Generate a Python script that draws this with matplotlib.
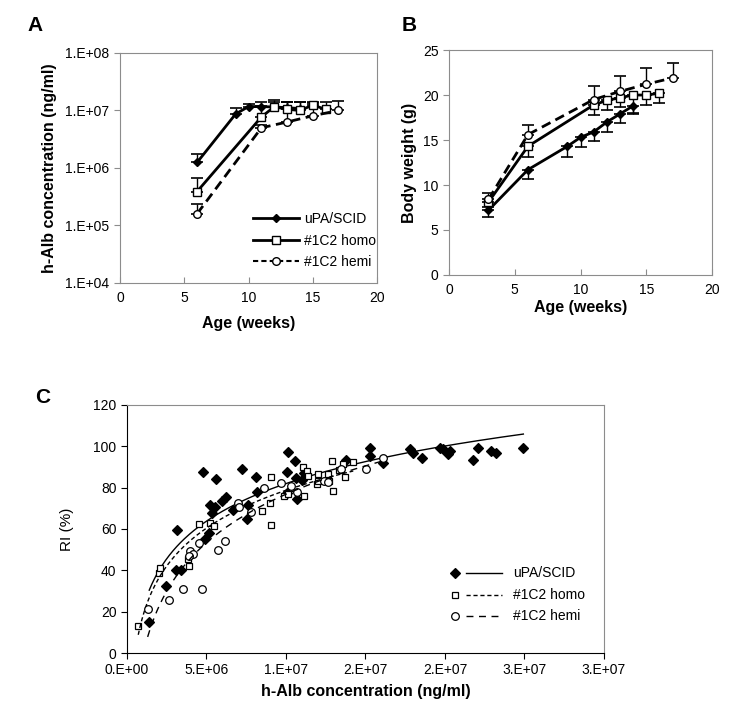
import numpy as np
import matplotlib
matplotlib.use("Agg")
import matplotlib.pyplot as plt
from matplotlib.lines import Line2D

plt.rcParams['font.family'] = ['Liberation Sans', 'DejaVu Sans']
plt.rcParams['font.size'] = 10

# ---- panel A : h-Alb vs age (upper error bars) ----
a_upa_wk = [6, 9, 10, 11, 12, 13, 14]
a_upa_val = [1.25e6, 8.7e6, 1.17e7, 1.17e7, 1.15e7, 1.12e7, 1.08e7]
a_upa_top = [1.75e6, 1.1e7, 1.3e7, 1.38e7, 1.4e7, 1.38e7, 1.38e7]

a_homo_wk = [6, 11, 12, 13, 14, 15, 16]
a_homo_val = [3.9e5, 7.7e6, 1.16e7, 1.05e7, 1.0e7, 1.24e7, 1.05e7]
a_homo_top = [6.6e5, 1.2e7, 1.5e7, 1.4e7, 1.38e7, 1.38e7, 1.38e7]

a_hemi_wk = [6, 11, 13, 15, 17]
a_hemi_val = [1.6e5, 5.0e6, 6.3e6, 8.1e6, 1.0e7]
a_hemi_top = [2.4e5, 5.5e6, 1.38e7, 1.35e7, 1.48e7]

a_yticklabels = ['1.E+04', '1.E+05', '1.E+06', '1.E+07', '1.E+08']

# ---- panel B : body weight vs age ----
b_upa_wk = [3, 6, 9, 10, 11, 12, 13, 14]
b_upa_val = [7.2, 11.7, 14.3, 15.3, 15.9, 17.0, 17.9, 18.8]
b_upa_low = [6.4, 10.7, 13.1, 14.2, 14.9, 15.9, 16.9, 17.9]

b_homo_wk = [3, 6, 11, 12, 13, 14, 15, 16]
b_homo_val = [8.1, 14.3, 18.9, 19.4, 19.7, 20.0, 20.0, 20.2]
b_homo_low = [7.6, 13.1, 17.8, 18.3, 18.7, 18.0, 18.9, 19.1]

b_hemi_wk = [3, 6, 11, 13, 15, 17]
b_hemi_val = [8.4, 15.6, 19.5, 20.4, 21.2, 21.9]
b_hemi_top = [9.1, 16.7, 21.0, 22.1, 23.0, 23.6]

# ---- panel C : RI vs h-Alb (x in 1e6 ng/ml) ----
c_upa_x = [1.40, 2.45, 3.12, 3.06, 3.40, 4.80, 4.91, 5.18, 5.22, 5.37, 5.53, 5.62,
           5.95, 6.21, 6.69, 7.21, 7.59, 7.55, 8.11, 8.20, 10.13, 10.04, 10.08, 10.55,
           10.71, 10.65, 11.03, 11.13, 13.77, 15.28, 15.28, 16.12, 17.80, 18.00, 18.53,
           19.69, 19.90, 20.21, 20.30, 21.78, 22.05, 22.87, 23.20, 24.93]
c_upa_y = [15.1, 32.6, 59.5, 40.0, 40.0, 87.6, 55.0, 57.9, 71.6, 67.9, 70.8, 84.3,
           73.7, 75.3, 69.2, 88.9, 71.6, 64.7, 85.0, 78.0, 97.2, 87.6, 77.6, 92.7,
           74.7, 84.5, 83.9, 86.9, 93.4, 99.0, 95.3, 92.1, 98.5, 96.9, 94.5,
           99.0, 98.5, 96.3, 97.8, 93.4, 99.0, 97.8, 97.0, 99.0]

c_homo_x = [0.71, 2.01, 2.09, 3.92, 3.81, 4.55, 5.22, 5.49, 8.47, 8.99, 9.08, 9.08,
            9.90, 10.15, 11.13, 11.09, 11.30, 11.40, 12.03, 11.93, 12.00, 12.62,
            12.87, 12.98, 12.72, 13.31, 13.73, 13.56, 14.23]
c_homo_y = [13.1, 38.9, 41.1, 42.1, 45.6, 62.3, 63.0, 61.6, 68.7, 72.4, 85.3, 61.9,
            76.0, 77.0, 76.0, 89.8, 88.2, 85.8, 86.8, 81.8, 83.4, 86.8,
            93.0, 78.5, 83.2, 88.4, 85.1, 91.3, 92.2]

c_hemi_x = [1.30, 2.62, 3.54, 4.72, 3.96, 4.13, 3.92, 4.55, 5.70, 6.14, 6.96, 7.04,
            7.80, 8.62, 9.69, 10.30, 10.71, 12.41, 12.66, 13.46, 15.01, 16.12]
c_hemi_y = [21.1, 25.6, 30.8, 30.8, 49.3, 47.9, 47.1, 53.1, 49.8, 54.3, 72.4, 70.8,
            68.2, 80.0, 82.1, 80.8, 78.0, 83.4, 82.6, 88.9, 88.9, 94.2]

c_xticklabels = ['0.E+00', '5.E+06', '1.E+07', '2.E+07', '2.E+07', '3.E+07', '3.E+07']
names = ['uPA/SCID', '#1C2 homo', '#1C2 hemi']

grey = '#8c8c8c'

fig = plt.figure(figsize=(7.5, 7.21), dpi=100)
axA = fig.add_axes([0.160, 0.6075, 0.3427, 0.319])
axB = fig.add_axes([0.5987, 0.6186, 0.3507, 0.312])
axC = fig.add_axes([0.1693, 0.0943, 0.636, 0.344])

for ax in (axA, axB):
    for s in ax.spines.values():
        s.set_color(grey)
    ax.tick_params(axis='x', direction='in', length=4, color=grey, pad=6)
    ax.tick_params(axis='y', direction='out', length=4, color=grey)

# panel A
def err_up(v, top):
    return [np.zeros(len(v)), np.array(top) - np.array(v)]

axA.errorbar(a_upa_wk, a_upa_val, yerr=err_up(a_upa_val, a_upa_top), color='black',
             lw=2, marker='D', ms=4.5, mfc='black', capsize=4, elinewidth=1, capthick=1.2)
axA.errorbar(a_homo_wk, a_homo_val, yerr=err_up(a_homo_val, a_homo_top), color='black',
             lw=2, marker='s', ms=5.5, mfc='white', capsize=4, elinewidth=1, capthick=1.2)
axA.errorbar(a_hemi_wk, a_hemi_val, yerr=err_up(a_hemi_val, a_hemi_top), color='black',
             lw=2, ls=(0, (3.5, 2)), marker='o', ms=5.5, mfc='white', capsize=4,
             elinewidth=1, capthick=1.2)
axA.set_yscale('log')
axA.set_ylim(1e4, 1e8)
axA.set_yticks([1e4, 1e5, 1e6, 1e7, 1e8])
axA.set_yticklabels(a_yticklabels)
axA.minorticks_off()
axA.set_xlim(0, 20)
axA.set_xticks([0, 5, 10, 15, 20])
axA.set_xlabel('Age (weeks)', fontweight='bold', fontsize=11.5, labelpad=8)
axA.set_ylabel('h-Alb concentration (ng/ml)', fontweight='bold', fontsize=11.5, labelpad=6)
hA = [Line2D([], [], color='black', lw=2, marker='D', ms=4.5, mfc='black'),
      Line2D([], [], color='black', lw=2, marker='s', ms=5.5, mfc='white'),
      Line2D([], [], color='black', lw=1.5, ls=(0, (2.5, 1.5)), marker='o', ms=5.5, mfc='white')]
axA.legend(hA, names, loc='lower right', frameon=False, handlelength=3.3,
           fontsize=10, bbox_to_anchor=(1.045, 0.005), labelspacing=0.55, handletextpad=0.4)

# panel B
axB.errorbar(b_upa_wk, b_upa_val, yerr=[np.array(b_upa_val) - np.array(b_upa_low),
             np.zeros(len(b_upa_val))], color='black', lw=2, marker='D', ms=4,
             mfc='black', capsize=4, elinewidth=1, capthick=1.2)
axB.errorbar(b_homo_wk, b_homo_val, yerr=[np.array(b_homo_val) - np.array(b_homo_low),
             np.zeros(len(b_homo_val))], color='black', lw=2, marker='s', ms=5.5,
             mfc='white', capsize=4, elinewidth=1, capthick=1.2)
axB.errorbar(b_hemi_wk, b_hemi_val, yerr=err_up(b_hemi_val, b_hemi_top), color='black',
             lw=2, ls=(0, (3.5, 2)), marker='o', ms=5.5, mfc='white', capsize=4,
             elinewidth=1, capthick=1.2)
axB.set_xlim(0, 20)
axB.set_ylim(0, 25)
axB.set_xticks([0, 5, 10, 15, 20])
axB.set_yticks([0, 5, 10, 15, 20, 25])
axB.set_xlabel('Age (weeks)', fontweight='bold', fontsize=11.5, labelpad=2)
axB.set_ylabel('Body weight (g)', fontweight='bold', fontsize=11.5, labelpad=4)

# panel C
styles = [('D', 'black', '-', 1.0), ('s', 'white', (0, (3, 2)), 1.0),
          ('o', 'white', (0, (5, 4)), 1.0)]
sizes = [5, 4.5, 5.5]
cx = [c_upa_x, c_homo_x, c_hemi_x]
cy = [c_upa_y, c_homo_y, c_hemi_y]
leg_y = [0.3226, 0.2339, 0.149]
for (mk, fc, ls, lw), ms, xs, ys, ly, nm in zip(styles, sizes, cx, cy, leg_y, names):
    xs = np.array(xs) * 1e6
    ys = np.array(ys)
    axC.plot(xs, ys, ls='none', marker=mk, ms=ms, mfc=fc, mec='black', mew=0.9)
    k, b = np.polyfit(np.log(xs), ys, 1)
    xf = np.linspace(xs.min(), xs.max(), 300)
    axC.plot(xf, k * np.log(xf) + b, color='black', lw=lw, ls=ls)
    # legend row: marker, line sample, label
    axC.plot([0.6876], [ly], transform=axC.transAxes, ls='none', marker=mk, ms=ms,
             mfc=fc, mec='black', mew=0.9, clip_on=False)
    axC.plot([0.7107, 0.786], [ly, ly], transform=axC.transAxes, color='black',
             lw=lw, ls=ls, clip_on=False)
    axC.text(0.809, ly, nm, transform=axC.transAxes, va='center', ha='left', fontsize=10)
axC.set_xlim(0, 3e7)
axC.set_ylim(0, 120)
axC.set_xticks(np.arange(0, 3.01e7, 5e6))
axC.set_xticklabels(c_xticklabels)
axC.set_yticks(np.arange(0, 121, 20))
axC.spines['top'].set_color(grey)
axC.spines['right'].set_color(grey)
axC.tick_params(direction='out', length=4)
axC.set_xlabel('h-Alb concentration (ng/ml)', fontweight='bold', fontsize=11.5, labelpad=5)
axC.set_ylabel('RI (%)', fontsize=11, labelpad=14)

fig.text(0.037, 0.978, 'A', fontsize=15, fontweight='bold', va='top')
fig.text(0.535, 0.978, 'B', fontsize=15, fontweight='bold', va='top')
fig.text(0.047, 0.462, 'C', fontsize=15, fontweight='bold', va='top')

fig.savefig('out.png', dpi=100)
